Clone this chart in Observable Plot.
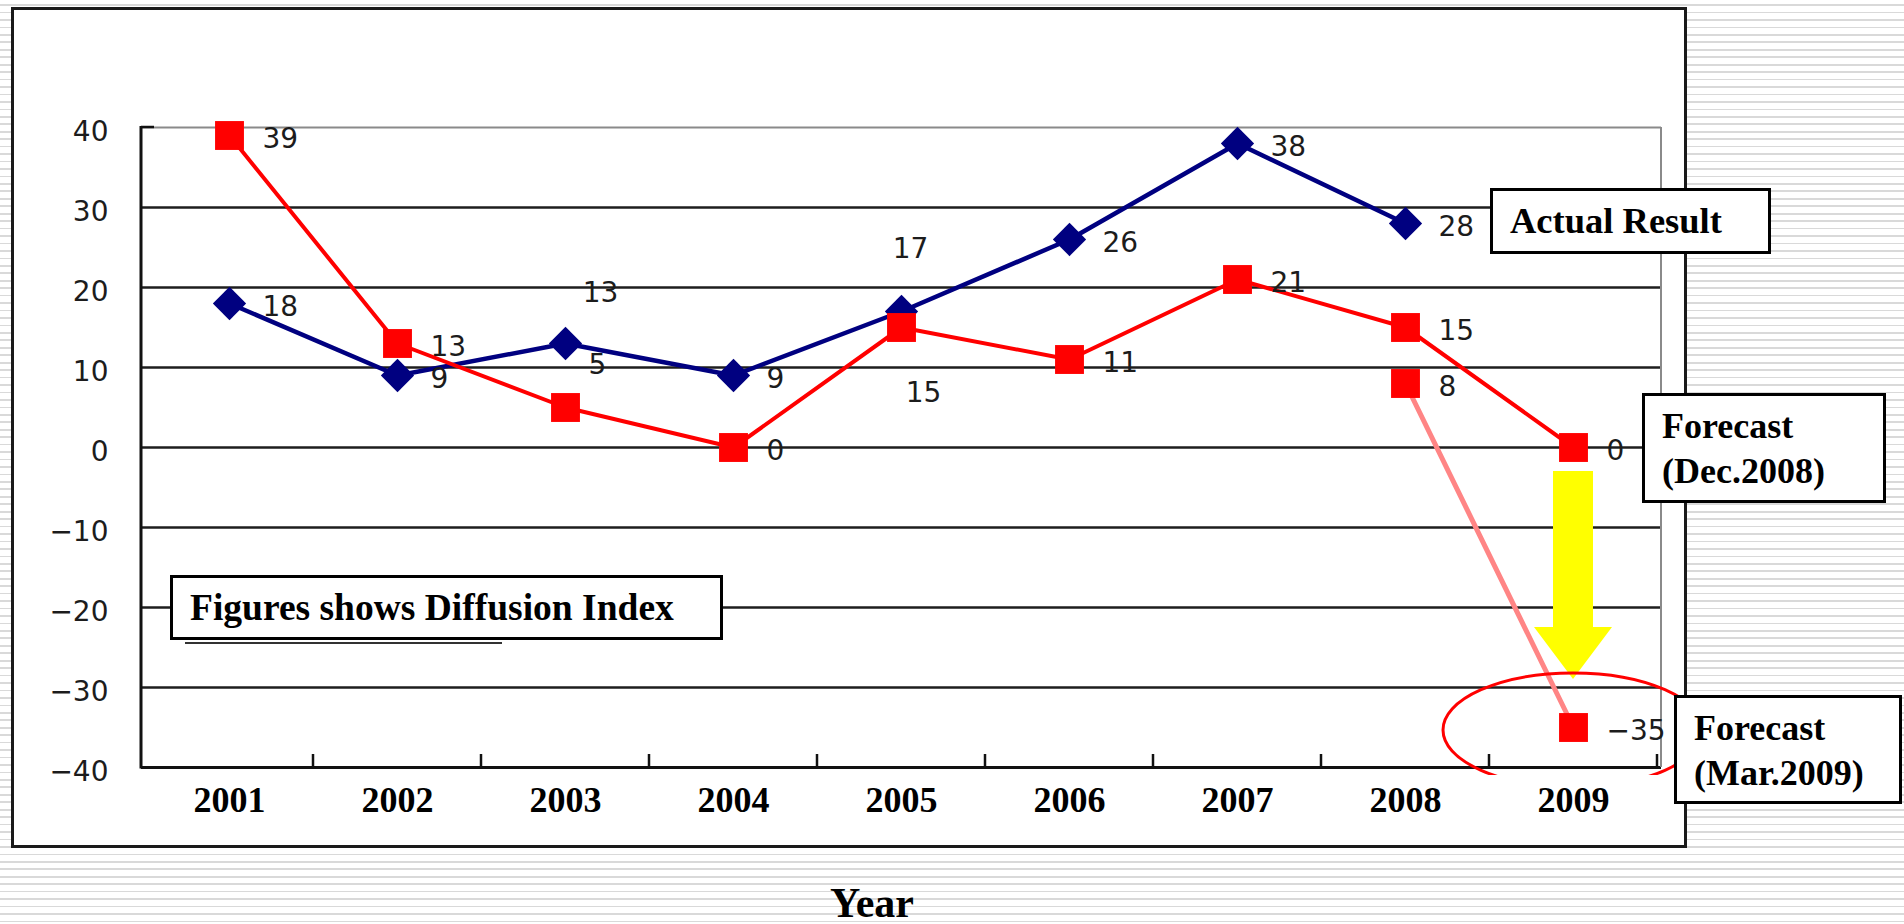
<!DOCTYPE html>
<html>
<head>
<meta charset="utf-8">
<script src="https://cdn.jsdelivr.net/npm/d3@7"></script>
<script src="https://cdn.jsdelivr.net/npm/@observablehq/plot@0.6"></script>
<style>
  html, body { margin: 0; padding: 0; overflow: hidden; background: #fff; }
  #stage {
    position: relative; width: 1904px; height: 924px;
    background: repeating-linear-gradient(180deg, #ffffff 0px, #ffffff 4.2px, #d9d9d9 4.2px, #d9d9d9 5.9px, #ffffff 5.9px, #ffffff 7.45px);
  }
  #frame {
    position: absolute; left: 11px; top: 7px; width: 1676px; height: 841px;
    box-sizing: border-box; border: 3px solid #1a1a1a; background: #fff;
  }
  #chart { position: absolute; left: 0; top: 0; }
</style>
</head>
<body>
<div id="stage"><div id="frame"></div><div id="chart"></div></div>
<script>
// ---------- data ----------
const years = ["2001", "2002", "2003", "2004", "2005", "2006", "2007", "2008", "2009"];
const actualYears = ["2001", "2002", "2003", "2004", "2005", "2006", "2007", "2008"];
const actualValues = [18, 9, 13, 9, 17, 26, 38, 28];
const decForecastYears = ["2001", "2002", "2003", "2004", "2005", "2006", "2007", "2008", "2009"];
const decForecastValues = [39, 13, 5, 0, 15, 11, 21, 15, 0];
const marForecastYears = ["2008", "2009"];
const marForecastValues = [8, -35];
const yTicks = [-40, -30, -20, -10, 0, 10, 20, 30, 40];
const actualLabelPlace = ["right", "right", "upperRight", "right", "above", "right", "right", "right"];
const decLabelPlace = ["right", "right", "upperRightNear", "right", "below", "right", "right", "right", "right"];
const marLabelPlace = ["right", "right"];
const boxTexts = {
  actual: ["Actual Result"],
  dec: ["Forecast", "(Dec.2008)"],
  mar: ["Forecast", "(Mar.2009)"],
  note: ["Figures shows Diffusion Index"]
};
const axisTitle = "Year";

// ---------- styles / layout ----------
const NAVY = "#000080", RED = "#ff0000", PINK = "#ff8585", YELLOW = "#ffff00";
const numFont = "DejaVu Sans, Verdana, sans-serif";
const serif = "Liberation Serif, Times New Roman, serif";
const fmt = d => d < 0 ? "\u2212" + Math.abs(d) : String(d);
const labelOffsets = {
  right: {dx: 33, dy: 4, anchor: "start"},
  upperRight: {dx: 35, dy: -50, anchor: "middle"},
  above: {dx: 9, dy: -62, anchor: "middle"},
  upperRightNear: {dx: 32, dy: -42, anchor: "middle"},
  below: {dx: 22, dy: 66, anchor: "middle"}
};

const actual = actualYears.map((year, i) => ({year, value: actualValues[i], place: actualLabelPlace[i]}));
const dec = decForecastYears.map((year, i) => ({year, value: decForecastValues[i], place: decLabelPlace[i]}));
const mar = marForecastYears.map((year, i) => ({year, value: marForecastValues[i], place: marLabelPlace[i]}));

function labelMarks(rows) {
  return Array.from(d3.group(rows, d => d.place), ([place, data]) => {
    const o = labelOffsets[place];
    return Plot.text(data, {
      x: "year", y: "value", text: d => fmt(d.value),
      dx: o.dx, dy: o.dy, textAnchor: o.anchor,
      fontSize: 28, fontFamily: numFont, fill: "#1c1c1c"
    });
  });
}

// frame pieces: left axis, x ticks, right border, inner tick at top
function frameMark(index, scales, values, dim) {
  const g = d3.create("svg:g");
  const x0 = dim.marginLeft, x1 = dim.width - dim.marginRight;
  const yTop = dim.marginTop, yBot = dim.height - dim.marginBottom;
  const step = scales.x(years[1]) - scales.x(years[0]);
  g.append("line").attr("x1", x1).attr("x2", x1).attr("y1", yTop).attr("y2", yBot)
    .attr("stroke", "#8a8a8a").attr("stroke-width", 2);
  g.append("line").attr("x1", x0).attr("x2", x0).attr("y1", yTop - 1).attr("y2", yBot + 1.5)
    .attr("stroke", "#111").attr("stroke-width", 3);
  g.append("line").attr("x1", x0).attr("x2", x0 + 13).attr("y1", yTop).attr("y2", yTop)
    .attr("stroke", "#111").attr("stroke-width", 2.5);
  years.forEach(yr => {
    const xt = scales.x(yr) + step / 2;
    g.append("line").attr("x1", xt).attr("x2", xt).attr("y1", yBot - 13).attr("y2", yBot)
      .attr("stroke", "#111").attr("stroke-width", 2.5);
  });
  return g.node();
}

// yellow block arrow: from Dec forecast (0) down toward Mar forecast (-35)
function arrowMark(index, scales) {
  const cx = scales.x("2009");
  const yStart = scales.y(-3), yShaftEnd = scales.y(-22.5), yTip = scales.y(-29);
  const pts = [
    [cx - 20, yStart], [cx + 20, yStart], [cx + 20, yShaftEnd], [cx + 39, yShaftEnd],
    [cx, yTip], [cx - 39, yShaftEnd], [cx - 20, yShaftEnd]
  ];
  return d3.create("svg:polygon").attr("points", pts.map(p => p.join(",")).join(" "))
    .attr("fill", YELLOW).node();
}

const plot = Plot.plot({
  width: 1904, height: 924,
  marginLeft: 141, marginRight: 243, marginTop: 127, marginBottom: 157,
  style: {background: "transparent", overflow: "visible"},
  x: {type: "point", domain: years, padding: 0.5, align: 0.5},
  y: {domain: [-40, 40]},
  marks: [
    Plot.ruleY(yTicks.filter(d => d > -40 && d < 40), {stroke: "#1e1e1e", strokeWidth: 2.5}),
    Plot.ruleY([40], {stroke: "#8a8a8a", strokeWidth: 2}),
    Plot.ruleY([-40], {stroke: "#111", strokeWidth: 3}),
    frameMark,
    Plot.axisY({ticks: yTicks, tickSize: 0, tickPadding: 33, tickFormat: fmt, label: null,
      fontSize: 28, fontFamily: numFont, fill: "#1c1c1c", dy: 5}),
    Plot.text(years, {x: d => d, frameAnchor: "bottom", dy: 44, text: d => d,
      fontSize: 36, fontFamily: serif, fontWeight: "bold", fill: "#000"}),
    Plot.axisX({ticks: [], label: null}),
    arrowMark,
    Plot.line(actual, {x: "year", y: "value", stroke: NAVY, strokeWidth: 4.5}),
    Plot.dot(actual, {x: "year", y: "value", symbol: "diamond2", r: 15, fill: NAVY, stroke: "none"}),
    Plot.line(mar, {x: "year", y: "value", stroke: PINK, strokeWidth: 5}),
    Plot.line(dec, {x: "year", y: "value", stroke: RED, strokeWidth: 4}),
    Plot.dot(dec, {x: "year", y: "value", symbol: "square", r: 16.3, fill: RED, stroke: "none"}),
    Plot.dot(mar, {x: "year", y: "value", symbol: "square", r: 16.3, fill: RED, stroke: "none"}),
    ...labelMarks(actual),
    ...labelMarks(dec),
    ...labelMarks(mar)
  ]
});
document.getElementById("chart").appendChild(plot);

// ---------- annotations on top ----------
const svg = d3.select(plot);
const xs = plot.scale("x"), ys = plot.scale("y");
const X = v => xs.apply(v), Y = v => ys.apply(v);

// red ellipse around the March forecast, cut off at the bottom
const clipId = "ellclip";
svg.append("defs").append("clipPath").attr("id", clipId)
  .append("rect").attr("x", 0).attr("y", 0).attr("width", 1904).attr("height", 775);
svg.append("ellipse")
  .attr("cx", X("2009")).attr("cy", Y(-35) + 3).attr("rx", 130).attr("ry", 57)
  .attr("fill", "none").attr("stroke", RED).attr("stroke-width", 3)
  .attr("clip-path", `url(#${clipId})`);

function textBox(x, y, w, h, lines, tx, baselines, size) {
  const g = svg.append("g").attr("text-anchor", "start");
  g.append("rect").attr("x", x).attr("y", y).attr("width", w).attr("height", h)
    .attr("fill", "#fff").attr("stroke", "#000").attr("stroke-width", 3);
  lines.forEach((t, i) => {
    g.append("text").attr("x", tx).attr("y", baselines[i]).text(t)
      .attr("text-anchor", "start")
      .attr("font-family", serif).attr("font-weight", "bold").attr("font-size", size).attr("fill", "#000");
  });
}
// shadow line under note box
svg.append("line").attr("x1", 185).attr("x2", 502).attr("y1", 643).attr("y2", 643)
  .attr("stroke", "#333").attr("stroke-width", 2);
textBox(171.5, 576.5, 550, 62, boxTexts.note, 190, [620], 37.5);
textBox(1491.5, 189.5, 278, 63, boxTexts.actual, 1510, [233], 36.5);
textBox(1643.5, 394.5, 241, 107, boxTexts.dec, 1662, [438, 483], 36);
textBox(1675.5, 696.5, 225, 106, boxTexts.mar, 1694, [740, 785], 36);

svg.append("text").attr("x", 872).attr("y", 917).attr("text-anchor", "middle").text(axisTitle)
  .attr("font-family", serif).attr("font-weight", "bold").attr("font-size", 42).attr("fill", "#000");
</script>
</body>
</html>
